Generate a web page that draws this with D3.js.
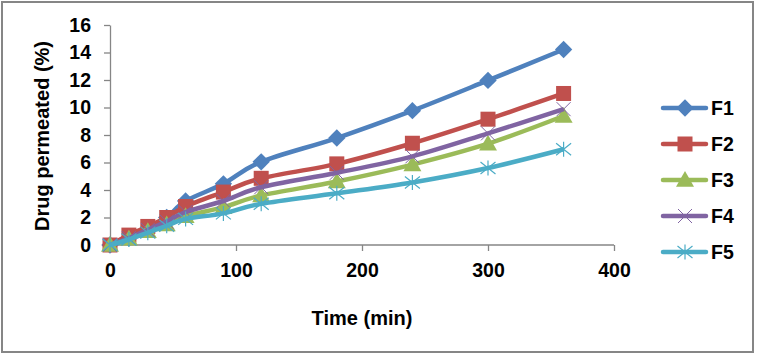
<!DOCTYPE html>
<html><head><meta charset="utf-8">
<script src="https://cdn.jsdelivr.net/npm/d3@7"></script>
<style>body{margin:0;background:#fff}svg{display:block}text{font-family:Arial,"Liberation Sans",sans-serif;font-weight:bold;fill:#000}</style>
</head><body><svg id="c" width="757" height="357"></svg>
<script>
const times = [0, 15, 30, 45, 60, 90, 120, 180, 240, 300, 360];
const seriesNames = ["F1", "F2", "F3", "F4", "F5"];
const F1 = [0, 0.5, 1.2, 2.0, 3.2, 4.45, 6.05, 7.78, 9.77, 11.97, 14.22];
const F2 = [0, 0.72, 1.35, 2.0, 2.8, 3.85, 4.85, 5.9, 7.4, 9.15, 11.02];
const F3 = [0, 0.45, 1.0, 1.5, 2.1, 2.75, 3.6, 4.62, 5.85, 7.37, 9.38];
const F4 = [0, 0.5, 1.1, 1.7, 2.4, 3.2, 4.2, 5.25, 6.45, 8.12, 9.88];
const F5 = [0, 0.4, 0.9, 1.4, 1.9, 2.3, 3.0, 3.76, 4.55, 5.6, 6.96];
const xTicks = [0, 100, 200, 300, 400];
const yTicks = [0, 2, 4, 6, 8, 10, 12, 14, 16];
const colors = ["#4F81BD", "#C0504D", "#9BBB59", "#8064A2", "#4BACC6"];
const markers = ["diamond", "square", "triangle", "x", "star"];
const allSeries = [F1, F2, F3, F4, F5];

const svg = d3.select("#c");
svg.append("rect").attr("x", 2).attr("y", 2).attr("width", 751).attr("height", 350)
  .attr("fill", "#fff").attr("stroke", "#868686").attr("stroke-width", 2);

const x = d3.scaleLinear().domain([0, 400]).range([110, 614]);
const y = d3.scaleLinear().domain([0, 16]).range([245, 25]);

const gx = svg.append("g").attr("transform", "translate(0,245)")
  .call(d3.axisBottom(x).tickValues(xTicks).tickSize(6).tickPadding(12).tickSizeOuter(0));
const gy = svg.append("g").attr("transform", "translate(110,0)")
  .call(d3.axisLeft(y).tickValues(yTicks).tickSize(6).tickPadding(13).tickSizeOuter(0));
[gx, gy].forEach(g => {
  g.selectAll("path,line").attr("stroke", "#868686").attr("stroke-width", 1.3);
  g.selectAll("text").style("font-size", "19.5px").style("font-family", "Arial, 'Liberation Sans', sans-serif").style("font-weight", "bold").attr("fill", "#000");
});
gx.select(".domain").attr("d", "M110,0H614");

svg.append("text").attr("x", 362).attr("y", 325).attr("text-anchor", "middle")
  .style("font-size", "20px").text("Time (min)");
svg.append("text").attr("transform", "translate(49,136) rotate(-90)").attr("text-anchor", "middle")
  .style("font-size", "20px").text("Drug permeated (%)");

function drawMarker(g, type, color, cx, cy, s) {
  if (type === "diamond") {
    g.append("path").attr("d", `M${cx},${cy-s*0.62}L${cx+s*0.62},${cy}L${cx},${cy+s*0.62}L${cx-s*0.62},${cy}Z`).attr("fill", color);
  } else if (type === "square") {
    g.append("rect").attr("x", cx - s/2).attr("y", cy - s/2).attr("width", s).attr("height", s).attr("fill", color);
  } else if (type === "triangle") {
    g.append("path").attr("d", `M${cx},${cy-s*0.6}L${cx+s*0.6},${cy+s*0.45}L${cx-s*0.6},${cy+s*0.45}Z`).attr("fill", color);
  } else if (type === "x") {
    const h = s/2;
    g.append("path").attr("d", `M${cx-h},${cy-h}L${cx+h},${cy+h}M${cx-h},${cy+h}L${cx+h},${cy-h}`).attr("stroke", color).attr("stroke-width", 1).attr("fill", "none");
  } else if (type === "star") {
    const h = s/2;
    g.append("path").attr("d", `M${cx-h},${cy-h*0.8}L${cx+h},${cy+h*0.8}M${cx-h},${cy+h*0.8}L${cx+h},${cy-h*0.8}M${cx},${cy-h}L${cx},${cy+h}`).attr("stroke", color).attr("stroke-width", 1.2).attr("fill", "none");
  }
}

const line = d3.line().x(d => x(d[0])).y(d => y(d[1])).curve(d3.curveCardinal.tension(0));
const sizes = [14, 15, 15, 14, 15];
allSeries.forEach((vals, i) => {
  const g = svg.append("g");
  const pts = times.map((t, j) => [t, vals[j]]);
  g.append("path").datum(pts).attr("d", line).attr("fill", "none")
    .attr("stroke", colors[i]).attr("stroke-width", 4.5).attr("stroke-linejoin", "round");
  pts.forEach(p => drawMarker(g, markers[i], colors[i], x(p[0]), y(p[1]), sizes[i]));
});

// legend
const legY = d3.scalePoint().domain(seriesNames).range([108, 252]);
seriesNames.forEach((n, i) => {
  const g = svg.append("g");
  const ly = legY(n);
  g.append("line").attr("x1", 663).attr("x2", 706).attr("y1", ly).attr("y2", ly)
    .attr("stroke", colors[i]).attr("stroke-width", 4.5).attr("stroke-linecap", "round");
  drawMarker(g, markers[i], colors[i], 685, ly, sizes[i]);
  g.append("text").attr("x", 711).attr("y", ly + 7).style("font-size", "19.5px").text(n);
});
</script></body></html>
